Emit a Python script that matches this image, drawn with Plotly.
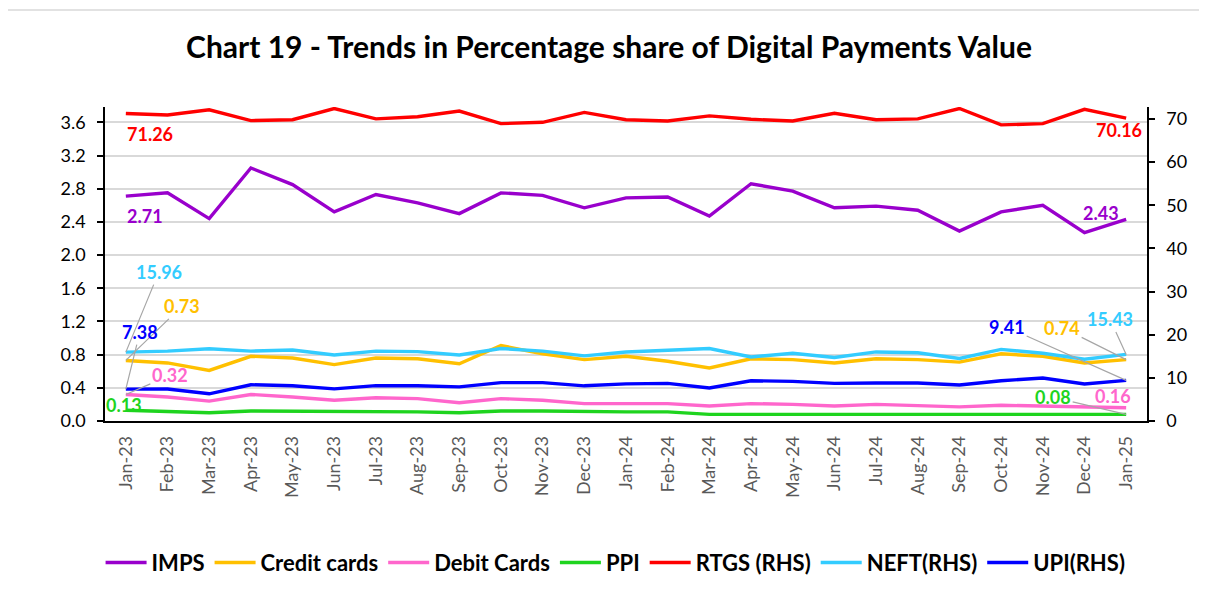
import plotly.graph_objects as go

months = ["Jan-23", "Feb-23", "Mar-23", "Apr-23", "May-23", "Jun-23", "Jul-23", "Aug-23",
          "Sep-23", "Oct-23", "Nov-23", "Dec-23", "Jan-24", "Feb-24", "Mar-24", "Apr-24",
          "May-24", "Jun-24", "Jul-24", "Aug-24", "Sep-24", "Oct-24", "Nov-24", "Dec-24", "Jan-25"]

imps = [2.71, 2.75, 2.44, 3.05, 2.85, 2.52, 2.73, 2.63, 2.50, 2.75, 2.72, 2.57, 2.69,
        2.70, 2.47, 2.86, 2.77, 2.57, 2.59, 2.54, 2.29, 2.52, 2.60, 2.27, 2.43]
credit_cards = [0.73, 0.70, 0.61, 0.78, 0.76, 0.68, 0.76, 0.75, 0.69, 0.91, 0.81, 0.74, 0.78,
                0.72, 0.64, 0.75, 0.74, 0.70, 0.75, 0.74, 0.71, 0.81, 0.78, 0.70, 0.74]
debit_cards = [0.32, 0.29, 0.24, 0.32, 0.29, 0.25, 0.28, 0.27, 0.22, 0.27, 0.25, 0.21, 0.21,
               0.21, 0.18, 0.21, 0.20, 0.18, 0.20, 0.19, 0.17, 0.19, 0.18, 0.16, 0.16]
ppi = [0.13, 0.12, 0.10, 0.12, 0.12, 0.11, 0.12, 0.11, 0.10, 0.12, 0.12, 0.11, 0.11,
       0.11, 0.08, 0.08, 0.08, 0.08, 0.08, 0.08, 0.08, 0.09, 0.09, 0.08, 0.08]
rtgs = [71.26, 70.9, 72.1, 69.6, 69.8, 72.4, 70.0, 70.5, 71.8, 68.9, 69.2, 71.5, 69.8,
        69.5, 70.7, 69.9, 69.5, 71.3, 69.8, 70.0, 72.4, 68.6, 68.9, 72.2, 70.16]
neft = [15.96, 16.2, 16.75, 16.2, 16.45, 15.3, 16.2, 16.07, 15.3, 16.8, 16.2, 15.1, 16.0,
        16.45, 16.8, 14.85, 15.7, 14.7, 16.0, 15.8, 14.5, 16.6, 15.7, 14.3, 15.43]
upi = [7.38, 7.4, 6.3, 8.4, 8.15, 7.45, 8.2, 8.15, 7.9, 8.9, 8.9, 8.15, 8.6,
       8.72, 7.65, 9.33, 9.18, 8.72, 8.8, 8.8, 8.34, 9.33, 9.95, 8.57, 9.41]

left_ticks = [0.0, 0.4, 0.8, 1.2, 1.6, 2.0, 2.4, 2.8, 3.2, 3.6]
left_tick_text = ["0.0", "0.4", "0.8", "1.2", "1.6", "2.0", "2.4", "2.8", "3.2", "3.6"]
right_ticks = [0, 10, 20, 30, 40, 50, 60, 70]

FONT = "Lato"
series = [
    ("IMPS", imps, "#9900CC", "y"),
    ("Credit cards", credit_cards, "#FFC000", "y"),
    ("Debit Cards", debit_cards, "#FF66CC", "y"),
    ("PPI", ppi, "#1ED41E", "y"),
    ("RTGS (RHS)", rtgs, "#FF0000", "y2"),
    ("NEFT(RHS)", neft, "#33CCFF", "y2"),
    ("UPI(RHS)", upi, "#0000FF", "y2"),
]

fig = go.Figure()
for name, vals, color, ax in series:
    fig.add_trace(go.Scatter(x=months, y=vals, name=name, mode="lines", yaxis=ax,
                             line=dict(color=color, width=3.4)))

def lbl(i, vals, color, yref, fmt, dx=0, dy=0, arrow=False):
    d = dict(x=months[i], y=vals[i], xref="x", yref=yref, text=f"<b>{vals[i]:{fmt}}</b>",
             font=dict(family=FONT, size=18, color=color))
    if arrow:
        d.update(showarrow=True, ax=dx, ay=dy, arrowhead=0, arrowwidth=1.2,
                 arrowcolor="#A6A6A6", standoff=0, startstandoff=0)
    else:
        d.update(showarrow=False, xshift=dx, yshift=-dy)
    fig.add_annotation(**d)

# first-point labels
lbl(0, rtgs, "#FF0000", "y2", ".2f", 24, 21)
lbl(0, imps, "#9900CC", "y", ".2f", 19, 20)
lbl(0, neft, "#33CCFF", "y2", ".2f", 33, -80, arrow=True)
lbl(0, credit_cards, "#FFC000", "y", ".2f", 56, -54, arrow=True)
lbl(0, upi, "#0000FF", "y2", ".2f", 14, -57, arrow=True)
lbl(0, debit_cards, "#FF66CC", "y", ".2f", 44, -19, arrow=True)
lbl(0, ppi, "#1ED41E", "y", ".2f", -2, -5)
# last-point labels
n = len(months) - 1
lbl(n, rtgs, "#FF0000", "y2", ".2f", -7, 12)
lbl(n, imps, "#9900CC", "y", ".2f", -25, -6)
lbl(n, upi, "#0000FF", "y2", ".2f", -119, -53, arrow=True)
lbl(n, credit_cards, "#FFC000", "y", ".2f", -64, -32, arrow=True)
lbl(n, neft, "#33CCFF", "y2", ".2f", -16, -35, arrow=True)
lbl(n, ppi, "#1ED41E", "y", ".2f", -73, -17, arrow=True)
lbl(n, debit_cards, "#FF66CC", "y", ".2f", -13, -12)

# page body has an 8px margin, so the figure is sized/offset to land the plot area at
# x 105..1147, y 107..424 in the 1207x603 window
W, H = 1191, 587
fig.update_layout(
    width=W, height=H,
    margin=dict(l=97, r=52, t=99, b=171),
    paper_bgcolor="white", plot_bgcolor="white",
    font=dict(family=FONT, color="black"),
    title=dict(text="<b>Chart 19 - Trends in Percentage share of Digital Payments Value</b>",
               x=(609 - 8) / W, xref="container", xanchor="center",
               y=1 - (47 - 8) / H, yref="container", yanchor="middle",
               font=dict(family=FONT, size=30, color="black")),
    showlegend=True,
    legend=dict(orientation="h", x=0.49, xanchor="center", y=-(567 - 424) / 317, yanchor="middle",
                font=dict(family=FONT, size=22, color="black", weight="bold"),
                itemwidth=41, tracegroupgap=0),
    xaxis=dict(range=[-0.5, 24.5], showgrid=False, showline=True, linecolor="black",
               linewidth=1.5, ticks="", tickangle=-90,
               tickfont=dict(family=FONT, size=18, color="#595959"), ticklabelstandoff=6),
    yaxis=dict(range=[0, 3.785], tickvals=left_ticks, ticktext=left_tick_text,
               showgrid=True, gridcolor="#D9D9D9", gridwidth=1.5, zeroline=False,
               showline=True, linecolor="black", linewidth=1.5,
               ticks="outside", ticklen=6, tickcolor="black", tickwidth=1.5,
               tickfont=dict(family=FONT, size=18, color="black"), ticklabelstandoff=8),
    yaxis2=dict(range=[0, 72.75], tickvals=right_ticks, overlaying="y", side="right",
                showgrid=False, zeroline=False, showline=True, linecolor="black", linewidth=1.5,
                ticks="outside", ticklen=6, tickcolor="black", tickwidth=1.5,
                tickfont=dict(family=FONT, size=18, color="black"), ticklabelstandoff=8),
)
fig.add_shape(type="line", xref="paper", yref="paper", x0=-0.1, x1=1.06,
              y0=1 + 98 / 317, y1=1 + 98 / 317, line=dict(color="#D9D9D9", width=1.5))

fig.write_html("out.html")
